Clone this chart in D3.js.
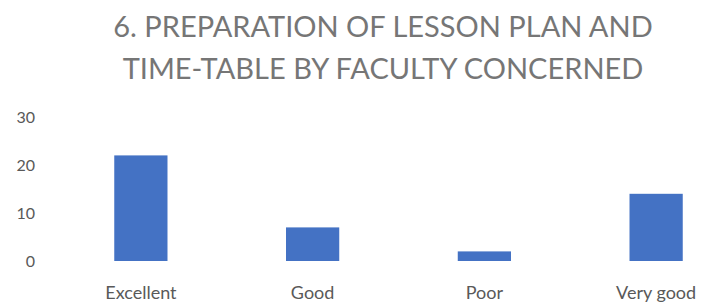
<!DOCTYPE html>
<html>
<head>
<meta charset="utf-8">
<script src="https://cdn.jsdelivr.net/npm/d3@7"></script>
<style>
  body { margin: 0; background: #fff; overflow: hidden; }
  text { font-family: Lato, "Open Sans", sans-serif; fill: #595959; }
</style>
</head>
<body>
<div id="chart"></div>
<script>
var width = 702;
var height = 302;
// right side of the plot runs past the picture, as in the reference crop
var margin = {"top": 117, "right": -40, "bottom": 41, "left": 55};

var categories = ["Excellent", "Good", "Poor", "Very good"];
var values = [22, 7, 2, 14];
var yTicks = [0, 10, 20, 30];
var titleLines = ["6. PREPARATION OF LESSON PLAN AND", "TIME-TABLE BY FACULTY CONCERNED"];

var svg = d3.select("#chart").append("svg")
    .attr("width", width)
    .attr("height", height);

// scales
var xScale = d3.scaleBand()
    .domain(categories)
    .range([margin.left, width - margin.right])
    .paddingInner(0.69)
    .paddingOuter(0.345);

var yScale = d3.scaleLinear()
    .domain([0, 30])
    .range([height - margin.bottom, margin.top]);

// title
svg.append("g").selectAll("text")
    .data(titleLines)
    .enter().append("text")
    .attr("x", 383)
    .attr("y", function(d, i) { return 37 + i * 42; })
    .attr("text-anchor", "middle")
    .style("font-size", "29px")
    .style("fill", "#767676")
    .text(function(d) { return d; });

// bars
svg.selectAll("rect")
    .data(values)
    .enter().append("rect")
    .attr("x", function(d, i) { return xScale(categories[i]); })
    .attr("y", function(d) { return yScale(d); })
    .attr("width", xScale.bandwidth())
    .attr("height", function(d) { return yScale(0) - yScale(d); })
    .attr("fill", "#4472C4");

// axes
var xAxis = d3.axisBottom(xScale).tickSize(0);
var yAxis = d3.axisLeft(yScale).tickValues(yTicks).tickSize(0).tickPadding(20);

var gx = svg.append("g")
    .attr("transform", "translate(" + [0, height - margin.bottom] + ")")
    .call(xAxis);
var gy = svg.append("g")
    .attr("transform", "translate(" + [margin.left, 0] + ")")
    .call(yAxis);

gx.select(".domain").remove();
gy.select(".domain").remove();
gx.selectAll("text")
    .attr("y", 38).attr("dy", 0)
    .style("font-size", "18px").style("font-family", "Lato, sans-serif").attr("fill", "#7a7a7a");
gy.selectAll("text")
    .style("font-size", "16px").style("font-family", "Lato, sans-serif").attr("fill", "#8a8a8a");
</script>
</body>
</html>
